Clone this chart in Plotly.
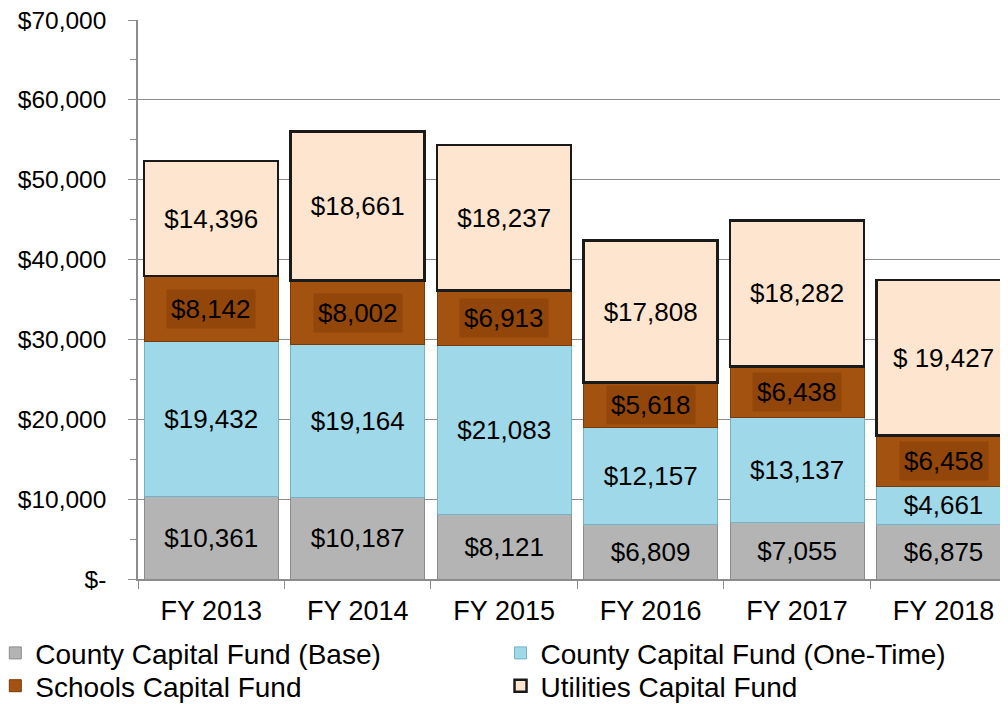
import plotly.graph_objects as go

years = ["FY 2013", "FY 2014", "FY 2015", "FY 2016", "FY 2017", "FY 2018"]
base = [10361, 10187, 8121, 6809, 7055, 6875]
one_time = [19432, 19164, 21083, 12157, 13137, 4661]
schools = [8142, 8002, 6913, 5618, 6438, 6458]
utilities = [14396, 18661, 18237, 17808, 18282, 19427]
utilities_text = ["$14,396", "$18,661", "$18,237", "$17,808", "$18,282", "$ 19,427"]

y_ticks = [0, 10000, 20000, 30000, 40000, 50000, 60000, 70000]
y_tick_text = ["$-", "$10,000", "$20,000", "$30,000", "$40,000", "$50,000", "$60,000", "$70,000"]

FONT = "Liberation Sans, Arial, sans-serif"

def fmt(v):
    return "${:,}".format(v)

series = [
    ("County Capital Fund (Base)", base, [fmt(v) for v in base], "#b4b4b4", "#8c8c8c", 1, "legend"),
    ("County Capital Fund (One-Time)", one_time, [fmt(v) for v in one_time], "#9fd8e8", "#72b4c6", 1, "legend2"),
    ("Schools Capital Fund", schools, [""] * len(schools), "#a3520f", "#7a3a06", 1, "legend3"),
    ("Utilities Capital Fund", utilities, utilities_text, "#fee5cf", "#1a1a1a", 2.5, "legend4"),
]

fig = go.Figure()
for name, vals, txt, col, lcol, lw, lg in series:
    fig.add_trace(go.Bar(
        x=years, y=vals, name=name, text=txt, legend=lg,
        textposition="inside", insidetextanchor="middle",
        textfont=dict(family=FONT, size=26, color="black"),
        marker=dict(color=col, line=dict(color=lcol, width=lw)),
        hoverinfo="skip",
    ))

# Schools labels with darker box behind text
for i, yr in enumerate(years):
    mid = base[i] + one_time[i] + schools[i] / 2
    fig.add_annotation(
        x=yr, y=mid, text=fmt(schools[i]), showarrow=False,
        font=dict(family=FONT, size=26, color="black"),
        bgcolor="#93460a", borderpad=4,
    )

legend_common = dict(
    orientation="v", yanchor="top", xanchor="left",
    font=dict(family=FONT, size=28, color="black"),
    traceorder="normal", itemwidth=30, tracegroupgap=0,
    bgcolor="rgba(0,0,0,0)",
)

fig.update_layout(
    barmode="stack",
    bargap=0.085,
    width=1000, height=696,
    margin=dict(l=130, r=0, t=12, b=125, autoexpand=False),
    paper_bgcolor="white", plot_bgcolor="white",
    font=dict(family=FONT, size=26, color="black"),
    uniformtext=dict(minsize=26, mode="show"),
    showlegend=True,
    legend=dict(x=-0.164, y=-0.088, **legend_common),
    legend2=dict(x=0.4167, y=-0.088, **legend_common),
    legend3=dict(x=-0.164, y=-0.1467, **legend_common),
    legend4=dict(x=0.4167, y=-0.1467, **legend_common),
    xaxis=dict(
        range=[-0.5, 5.44], showgrid=False, showline=True, linecolor="#8c8c8c", linewidth=1.5,
        ticks="outside", ticklen=8, tickcolor="#8c8c8c", tickson="boundaries",
        ticklabelstandoff=7,
        tickfont=dict(family=FONT, size=27, color="black"),
    ),
    yaxis=dict(
        range=[0, 70000], tickvals=y_ticks, ticktext=y_tick_text,
        showgrid=True, gridcolor="#8c8c8c", gridwidth=1.2,
        showline=True, linecolor="#8c8c8c", linewidth=1.5,
        ticks="outside", ticklen=8, tickcolor="#8c8c8c",
        ticklabelstandoff=17, ticklabeloverflow="allow",
        minor=dict(dtick=5000, ticks="outside", ticklen=6, tickcolor="#8c8c8c", showgrid=False),
        tickfont=dict(family=FONT, size=24.5, color="black"),
        zeroline=False,
    ),
)

fig.write_html("out.html")
